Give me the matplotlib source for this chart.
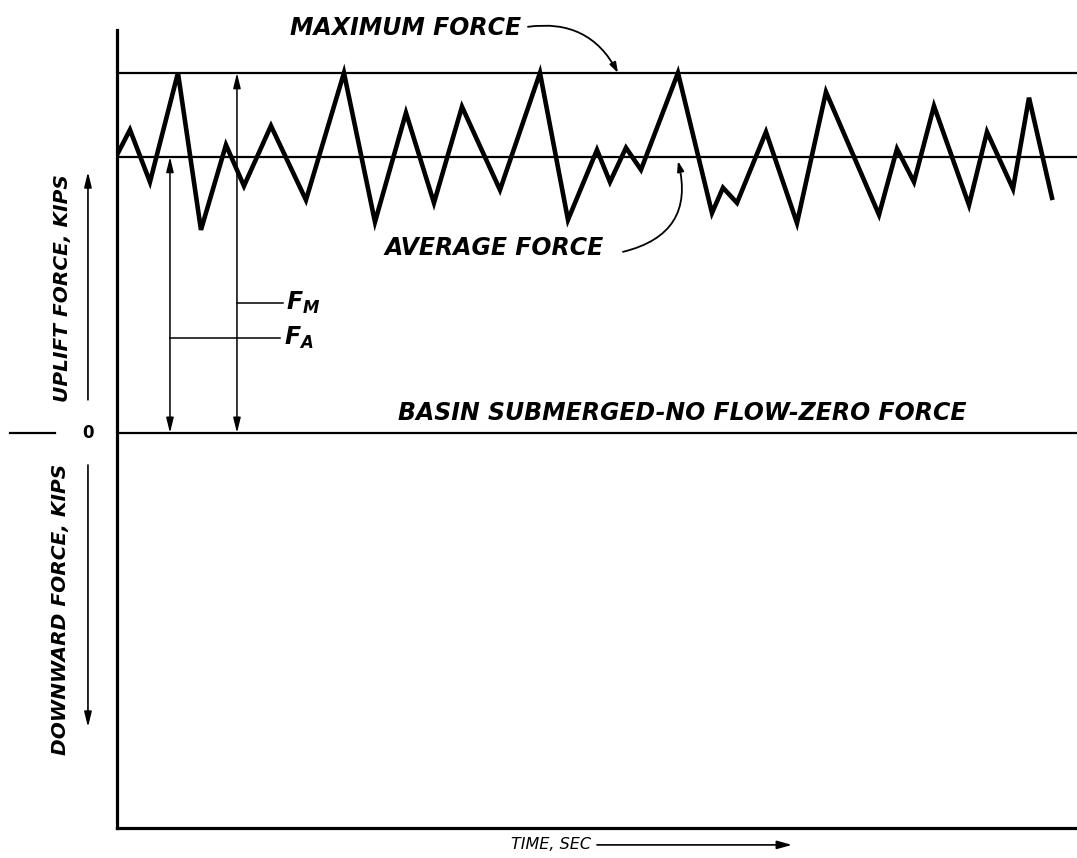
import numpy as np
import matplotlib
matplotlib.use('Agg')
from matplotlib import pyplot as plt

plt.rcParams['font.family'] = ['DejaVu Sans']
plt.rcParams['mathtext.fontset'] = 'custom'
plt.rcParams['mathtext.it'] = 'DejaVu Sans:italic:bold'
plt.rcParams['mathtext.rm'] = 'DejaVu Sans:italic:bold'

# force record (arbitrary time units / kips units)
time = [0, 1.3, 3.3, 6.1, 8.4, 10.9, 12.7, 15.4, 18.9, 22.7, 25.8, 28.9,
        31.7, 34.5, 38.3, 42.3, 45.1, 48.0, 49.3, 50.9, 52.4, 56.1, 59.5,
        60.6, 62.0, 64.9, 68.0, 70.9, 76.2, 78.0, 79.7, 81.7, 85.2, 87.0,
        89.6, 91.2, 93.5]
force = [7.72, 8.42, 6.97, 10.0, 5.64, 8.0, 6.86, 8.53, 6.47, 10.0, 5.86, 8.89,
         6.39, 9.06, 6.75, 10.0, 5.92, 7.86, 6.97, 7.92, 7.31, 10.0, 6.11,
         6.81, 6.39, 8.36, 5.83, 9.47, 6.06, 7.89, 6.97, 9.08, 6.33, 8.36,
         6.78, 9.31, 6.53]
max_force = 10.0
avg_force = 7.67
zero_force = 0.0

fig = plt.figure(figsize=(10.77, 8.58), dpi=100)
ax = fig.add_axes([0.1086, 0.035, 0.8914, 0.930])
ax.set_xlim(0, 96)
ax.set_ylim(-10.97, 11.19)
ax.set_xticks([])
ax.set_yticks([])
for s in ['top', 'right']:
    ax.spines[s].set_visible(False)
for s in ['left', 'bottom']:
    ax.spines[s].set_linewidth(2.3)

txt = dict(fontsize=17, fontweight='bold', fontstyle='italic', color='black')

# reference lines
ax.axhline(max_force, color='black', lw=1.6)
ax.axhline(avg_force, color='black', lw=1.6)
ax.axhline(zero_force, color='black', lw=1.6)

# the record
ax.plot(time, force, color='black', lw=3.3, solid_joinstyle='miter')

# F_A and F_M dimension arrows
head = dict(arrowstyle='<|-|>,head_length=0.9,head_width=0.22', color='black', lw=1.1,
            shrinkA=0, shrinkB=0)
xa, xm = 5.3, 12.0
ax.annotate('', xy=(xa, avg_force), xytext=(xa, zero_force), arrowprops=head)
ax.annotate('', xy=(xm, max_force), xytext=(xm, zero_force), arrowprops=head)
ax.plot([xm, 16.6], [3.61, 3.61], color='black', lw=1.1)
ax.plot([xa, 16.3], [2.64, 2.64], color='black', lw=1.1)
ax.text(16.9, 3.61, '$F_M$', fontsize=17, va='center', ha='left')
ax.text(16.7, 2.64, '$F_A$', fontsize=17, va='center', ha='left')

# labels
ax.text(28.1, 0.36, 'BASIN SUBMERGED-NO FLOW-ZERO FORCE', ha='left', va='baseline', **txt)

ax.text(17.3, 11.25, 'MAXIMUM FORCE', ha='left', va='center', clip_on=False, **txt)
ax.annotate('', xy=(50.1, max_force), xytext=(41.1, 11.28), annotation_clip=False,
            arrowprops=dict(arrowstyle='-|>,head_length=0.6,head_width=0.2',
                            color='black', lw=1.3, connectionstyle='arc3,rad=-0.35',
                            shrinkA=0, shrinkB=0))
ax.text(26.8, 5.14, 'AVERAGE FORCE', ha='left', va='center', **txt)
ax.annotate('', xy=(56.1, avg_force - 0.12), xytext=(50.6, 5.03),
            arrowprops=dict(arrowstyle='-|>,head_length=0.6,head_width=0.2',
                            color='black', lw=1.3, connectionstyle='arc3,rad=0.5',
                            shrinkA=0, shrinkB=0))

# y-axis side labels
side_txt = dict(rotation=90, ha='center', va='center', clip_on=False,
                fontsize=14.5, fontweight='bold', fontstyle='italic')
ax.text(-5.4, 4.03, 'UPLIFT FORCE, KIPS', **side_txt)
ax.text(-5.6, -4.89, 'DOWNWARD FORCE, KIPS', **side_txt)
side = dict(arrowstyle='-|>,head_length=0.9,head_width=0.22', color='black', lw=1.2,
            shrinkA=0, shrinkB=0)
ax.annotate('', xy=(-2.9, 7.25), xytext=(-2.9, 0.92), arrowprops=side, annotation_clip=False)
ax.annotate('', xy=(-2.9, -8.17), xytext=(-2.9, -0.89), arrowprops=side, annotation_clip=False)
ax.plot([-10.7, -6.2], [0, 0], color='black', lw=1.6, clip_on=False)
ax.text(-2.9, 0, '0', ha='center', va='center', fontsize=12, fontweight='bold', clip_on=False)

# time axis label
ax.annotate('', xy=(67.5, -11.44), xytext=(48.0, -11.44), annotation_clip=False,
            arrowprops=dict(arrowstyle='-|>,head_length=0.9,head_width=0.25',
                            color='black', lw=1.2, shrinkA=0, shrinkB=0))
ax.text(47.4, -11.44, 'TIME, SEC', ha='right', va='center', clip_on=False,
        fontsize=11.5, fontstyle='italic')

fig.savefig('out.png', dpi=100)
